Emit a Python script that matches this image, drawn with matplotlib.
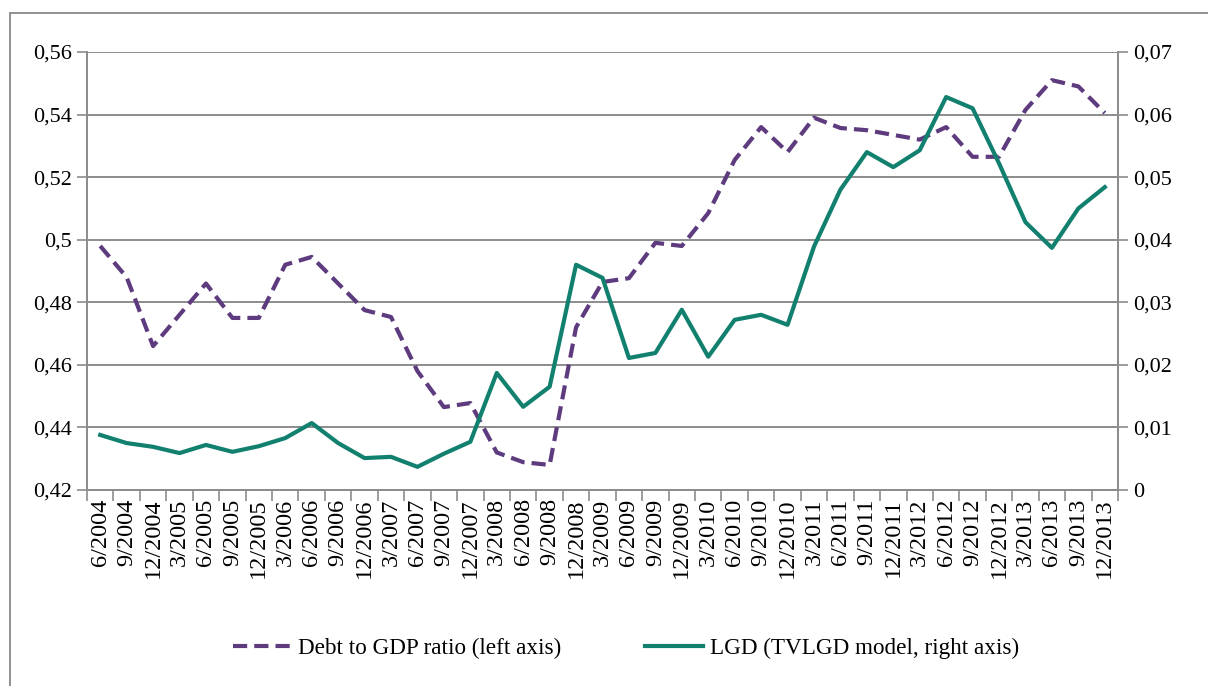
import matplotlib
matplotlib.use("Agg")
import matplotlib.pyplot as plt
from matplotlib.patches import Rectangle

dates = ["6/2004", "9/2004", "12/2004",
         "3/2005", "6/2005", "9/2005", "12/2005",
         "3/2006", "6/2006", "9/2006", "12/2006",
         "3/2007", "6/2007", "9/2007", "12/2007",
         "3/2008", "6/2008", "9/2008", "12/2008",
         "3/2009", "6/2009", "9/2009", "12/2009",
         "3/2010", "6/2010", "9/2010", "12/2010",
         "3/2011", "6/2011", "9/2011", "12/2011",
         "3/2012", "6/2012", "9/2012", "12/2012",
         "3/2013", "6/2013", "9/2013", "12/2013"]

debt_to_gdp = [0.498, 0.488, 0.466, 0.476, 0.486, 0.475, 0.475,
               0.492, 0.4945, 0.486, 0.4775, 0.4753, 0.458, 0.4465, 0.4478,
               0.432, 0.4289, 0.428, 0.472, 0.4865, 0.4877, 0.499, 0.498,
               0.5085, 0.5255, 0.536, 0.528, 0.539, 0.5357, 0.535, 0.5335,
               0.532, 0.536, 0.5265, 0.5265, 0.5415, 0.551, 0.549, 0.5405]

lgd = [0.0088, 0.0075, 0.0069, 0.0059, 0.0072, 0.0061, 0.0070,
       0.0083, 0.0107, 0.0075, 0.0051, 0.0053, 0.0037, 0.0058, 0.0077,
       0.0187, 0.0133, 0.0165, 0.0360, 0.0339, 0.0211, 0.0219, 0.0288,
       0.0213, 0.0272, 0.0280, 0.0264, 0.0389, 0.0480, 0.0540, 0.0516,
       0.0543, 0.0628, 0.0610, 0.0522, 0.0428, 0.0387, 0.0450, 0.0484]

left_ticks = [0.42, 0.44, 0.46, 0.48, 0.50, 0.52, 0.54, 0.56]
left_labels = ["0,42", "0,44", "0,46", "0,48", "0,5", "0,52", "0,54", "0,56"]
right_ticks = [0, 0.01, 0.02, 0.03, 0.04, 0.05, 0.06, 0.07]
right_labels = ["0", "0,01", "0,02", "0,03", "0,04", "0,05", "0,06", "0,07"]

purple = "#5E3B7E"
green = "#12806E"
grid_c = "#8C8C8C"
font = "Liberation Serif"

plt.rcParams["font.family"] = [font, "DejaVu Serif"]

W, H = 1208, 686
fig = plt.figure(figsize=(W / 100, H / 100), dpi=100)
fig.patch.set_facecolor("white")

# outer chart-area frame (extends past right and bottom edges)
fig.patches.append(Rectangle((10 / W, -0.05), 1.2, 1 - 13 / H + 0.05,
                             transform=fig.transFigure, fill=False,
                             edgecolor="#888888", linewidth=1.3))

ax = fig.add_axes([87 / W, 1 - 490 / H, (1118 - 87) / W, (490 - 52) / H])
ax2 = ax.twinx()

x = list(range(len(dates)))
ax.set_xlim(-0.5, len(dates) - 0.5)
ax.set_ylim(0.42, 0.56)
ax2.set_ylim(0, 0.07)

for t in left_ticks:
    ax.axhline(t, color=grid_c, linewidth=1.4, zorder=0)

ax.plot(x, debt_to_gdp, color=purple, linewidth=3, linestyle=(0, (3.4, 1.7)),
        zorder=3, label="Debt to GDP ratio (left axis)")
ax2.plot(x, lgd, color=green, linewidth=3, zorder=3,
         label="LGD (TVLGD model, right axis)")

ax.set_yticks(left_ticks)
ax.set_yticklabels(left_labels, fontsize=16, family=font)
ax2.set_yticks(right_ticks)
ax2.set_yticklabels(right_labels, fontsize=16, family=font)

ax.set_xticks(x)
ax.set_xticklabels(dates, rotation=90, fontsize=17.5, family=font)
ax.set_xticks([i - 0.5 for i in range(len(dates) + 1)], minor=True)
ax.tick_params(axis="x", which="major", length=0, pad=6)
ax.tick_params(axis="x", which="minor", length=8, width=1.2, color=grid_c,
               direction="out")
ax.tick_params(axis="y", length=7, width=1.2, color=grid_c, direction="out",
               pad=4)
ax2.tick_params(axis="y", length=7, width=1.2, color=grid_c, direction="out",
                pad=4)

for a in (ax, ax2):
    a.spines["top"].set_visible(False)
    for s in ("left", "right", "bottom"):
        a.spines[s].set_color(grid_c)
        a.spines[s].set_linewidth(1.3)
ax.patch.set_alpha(0)

h1, l1 = ax.get_legend_handles_labels()
h2, l2 = ax2.get_legend_handles_labels()
leg = fig.legend(h1 + h2, l1 + l2, loc="center", ncol=2,
                 bbox_to_anchor=(626 / W, 1 - 648 / H), frameon=False,
                 prop={"family": font, "size": 16.7}, handlelength=2.5,
                 handletextpad=0.3, columnspacing=3.6)

fig.savefig("out.png", dpi=100)
